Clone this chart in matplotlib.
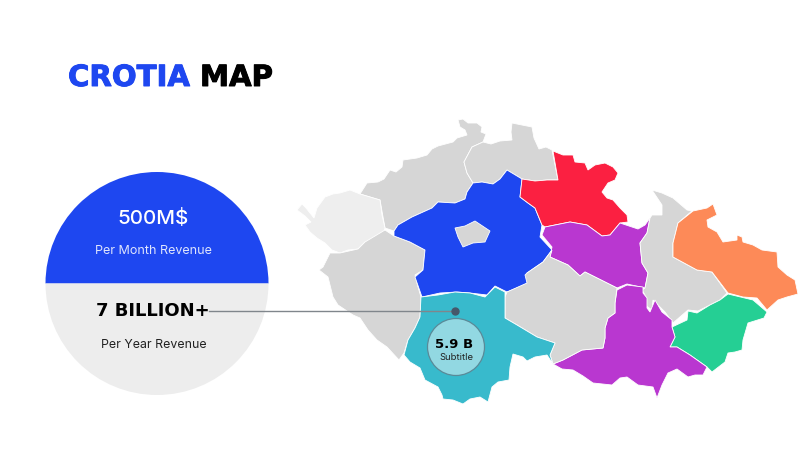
import matplotlib
matplotlib.use("Agg")
import matplotlib.pyplot as plt
import matplotlib.patheffects as pe
from matplotlib.patches import Circle, Polygon, Wedge

plt.rcParams["font.family"] = ["Inter", "DejaVu Sans"]

# region outlines in pixels
north_west = [(458,120),(463,119),(468,123),(477,123),(482,127),(481,132),(486,134),(483,142),(472,147),(464,162),
              (467,173),(473,183),(467,192),(465,199),(455,203),(438,202),(432,208),(412,217),(398,225),(394,231),
              (385,228),(380,200),(360,194),(367,183),(378,182),(384,179),(390,170),(396,172),(402,167),(403,160),
              (417,158),(427,155),(432,149),(438,146),(453,142),(457,138),(467,135),(465,130),(460,127)]
north = [(464,162),(472,147),(483,142),(491,144),(500,141),(512,140),(511,132),(512,123),(522,125),(532,127),
         (534,138),(539,149),(546,147),(552,150),(558,180),(547,180),(535,181),(522,179),(507,170),(500,179),
         (493,184),(482,182),(473,183),(467,173)]
far_west = [(297,210),(302,204),(306,208),(310,213),(314,218),(317,208),(325,197),(333,194),(340,193),(350,190),
            (360,194),(380,200),(382,215),(385,228),(382,238),(365,242),(358,249),(348,250),(340,253),(332,250),
            (325,243),(317,238),(310,232),(305,225),(311,222),(305,216)]
south_west = [(319,270),(323,267),(330,253),(340,253),(358,249),(365,242),(385,230),(394,236),(410,242),(425,250),
              (423,270),(415,275),(418,287),(421,297),(420,317),(415,328),(408,340),(404,353),(399,360),(387,347),
              (377,340),(368,330),(360,318),(353,315),(338,305),(333,297),(328,277)]
centre = [(394,231),(398,225),(412,217),(432,208),(438,202),(455,203),(465,199),(467,192),(473,183),(482,182),
          (493,184),(500,179),(507,170),(522,179),(520,197),(528,203),(535,208),(542,225),(540,237),(552,250),
          (543,262),(527,273),(529,283),(507,292),(495,286),(487,295),(470,293),(457,292),(440,293),(422,297),
          (415,277),(423,270),(425,250),(410,242),(394,236)]
capital = [(455,228),(465,226),(475,221),(490,231),(485,242),(473,243),(463,247),(458,237)]
red = [(553,151),(563,155),(573,155),(575,162),(585,163),(588,170),(595,165),(605,163),(613,167),(618,173),
       (615,180),(608,183),(602,192),(607,198),(613,200),(620,208),(627,215),(628,222),(620,223),(610,235),
       (602,236),(587,225),(570,222),(545,227),(542,225),(535,208),(528,203),(520,197),(522,179),(535,181),
       (547,180),(558,180)]
purple_top = [(545,227),(570,222),(587,225),(602,236),(610,235),(620,223),(638,229),(645,225),(650,218),(647,233),
              (640,243),(642,263),(648,273),(645,288),(627,284),(617,288),(607,283),(585,272),(580,276),(568,265),
              (550,257),(552,247),(542,235)]
east = [(652,190),(662,193),(673,198),(687,210),(692,211),(678,223),(673,243),(673,257),(697,270),(712,272),
        (727,293),(720,300),(710,305),(698,311),(688,310),(673,323),(665,312),(653,300),(652,310),(645,305),
        (645,295),(642,290),(645,288),(648,273),(642,263),(640,243),(647,233),(650,218),(652,215),(662,215),(662,205)]
orange = [(713,204),(717,215),(707,220),(708,227),(717,232),(723,242),(737,240),(737,235),(742,237),(743,242),
          (753,245),(762,250),(777,252),(778,267),(787,275),(795,280),(798,294),(787,297),(778,300),(767,310),
          (757,298),(743,297),(728,293),(712,272),(697,270),(673,257),(673,243),(678,223),(693,211),(707,208)]
green = [(672,327),(687,320),(688,311),(697,313),(710,305),(720,300),(728,294),(753,300),(767,312),(764,318),
         (748,323),(743,340),(742,350),(735,352),(728,353),(725,362),(712,372),(707,367),(690,355),(677,347),
         (670,347),(675,337)]
purple_low = [(617,290),(627,285),(643,287),(643,293),(647,298),(647,308),(650,312),(655,300),(662,312),(672,320),
              (672,327),(675,337),(670,347),(677,347),(690,355),(707,367),(703,375),(695,375),(688,377),(677,369),
              (668,373),(662,385),(657,398),(653,387),(638,385),(627,377),(620,378),(612,385),(593,383),(583,376),
              (573,370),(562,369),(553,364),(563,360),(582,350),(603,348),(605,338),(605,328),(608,318),(615,313),(615,303)]
middle = [(507,292),(527,283),(525,275),(527,273),(543,262),(552,250),(550,257),(568,265),(580,276),(585,272),
          (607,283),(617,288),(615,303),(615,313),(608,318),(605,328),(605,338),(603,348),(582,350),(563,360),
          (553,364),(550,355),(555,343),(537,337),(517,325),(505,318),(505,297)]
teal = [(421,297),(438,295),(455,292),(470,293),(485,297),(495,287),(505,292),(505,318),(517,325),(537,337),
        (555,343),(550,355),(553,364),(547,355),(535,357),(527,361),(523,357),(513,354),(510,367),(509,380),
        (498,382),(492,387),(488,402),(480,397),(470,399),(463,404),(453,400),(443,399),(442,395),(438,387),
        (425,380),(420,368),(410,362),(404,355),(408,340),(415,328),(420,317)]

regions = [
    (north_west, "#d6d6d6"), (north, "#d6d6d6"), (far_west, "#eeeeee"), (south_west, "#d6d6d6"),
    (centre, "#1e47f0"), (capital, "#d6d6d6"), (red, "#fb2041"), (purple_top, "#b937d0"),
    (east, "#d6d6d6"), (orange, "#fd8a58"), (green, "#25cf94"), (purple_low, "#b937d0"),
    (middle, "#d6d6d6"), (teal, "#38bacc"),
]

fig = plt.figure(figsize=(8, 4.5), dpi=100)
ax = fig.add_axes([0, 0, 1, 1])
ax.set_xlim(0, 800)
ax.set_ylim(450, 0)
ax.axis("off")

# title, stroked a little since the bold face is lighter than the original
t1 = ax.text(68, 86, "CROTIA", color="#1e47f0", family="DejaVu Sans", fontsize=21, fontweight="bold", va="baseline")
t2 = ax.text(200, 86, "MAP", color="black", family="DejaVu Sans", fontsize=21, fontweight="bold", va="baseline")
t1.set_path_effects([pe.withStroke(linewidth=0.7, foreground="#1e47f0")])
t2.set_path_effects([pe.withStroke(linewidth=0.7, foreground="black")])

# split circle on the left
ax.add_patch(Wedge((157, 283.5), 111.5, 180, 360, fc="#1e47f0", ec="none"))
ax.add_patch(Wedge((157, 283.5), 111.5, 0, 180, fc="#ededed", ec="none"))
ax.text(153.5, 219, "500M$", color="white", fontsize=14.8, fontweight="medium", ha="center", va="center")
ax.text(153.5, 251, "Per Month Revenue", color="#dfe5fd", fontsize=9, ha="center", va="center")
ax.text(152.5, 311, "7 BILLION+", color="black", family="DejaVu Sans", fontsize=13, fontweight="bold", ha="center", va="center")
ax.text(153.5, 345, "Per Year Revenue", color="#222222", fontsize=8.9, ha="center", va="center")

# map
for outline, colour in regions:
    ax.add_patch(Polygon(outline, closed=True, fc=colour, ec="white", lw=0.6))

# callout
ax.plot([209, 454], [311, 311], color="#80868c", lw=1)
ax.plot([454.5], [310.7], "o", color="#46586a", ms=5)
ax.add_patch(Circle((456, 347), 28.5, fc="#92d8e2", ec="#5a8a98", lw=0.9))
ax.text(454, 344, "5.9 B", color="black", family="DejaVu Sans", fontsize=9.5, fontweight="bold", ha="center", va="center")
ax.text(456.5, 358, "Subtitle", color="#222222", fontsize=6.8, ha="center", va="center")

fig.savefig("out.png", dpi=100)
